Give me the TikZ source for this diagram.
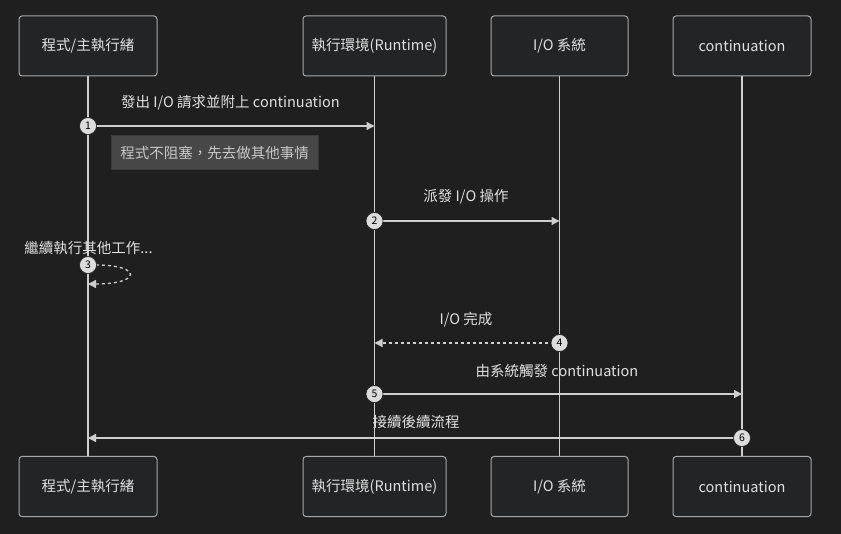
\documentclass[tikz,border=0pt]{standalone}
\usepackage{fontspec}
\setmainfont{Noto Sans CJK TC}
\usetikzlibrary{arrows.meta}
\definecolor{bg}{HTML}{1F1F1F}
\definecolor{boxfill}{HTML}{232425}
\definecolor{boxline}{HTML}{A8A8A8}
\definecolor{lineclr}{HTML}{CFCFCF}
\definecolor{txt}{HTML}{E0E0E0}
\definecolor{notefill}{HTML}{474747}
\definecolor{noteline}{HTML}{3A3A3A}
\definecolor{notetxt}{HTML}{C8C8C8}
\definecolor{circfill}{HTML}{DCDCDC}
\tikzset{
  actor/.style={draw=boxline, line width=1pt, fill=boxfill, rounded corners=3pt,
    minimum height=60pt, inner sep=0pt, text=txt, font=\fontsize{14.5}{16}\selectfont},
  life/.style={draw=lineclr, line width=1.3pt},
  msg/.style={draw=lineclr, line width=1.3pt, -{Triangle[length=8pt,width=8pt]}},
  dmsg/.style={msg, dash pattern=on 3pt off 3pt},
  seq/.style={circle, fill=circfill, draw=bg, line width=0.6pt, minimum size=17pt,
    inner sep=0pt, text=black, font=\fontsize{10.5}{10.5}\selectfont},
  lbl/.style={text=txt, font=\fontsize{14.5}{16}\selectfont, inner sep=0pt},
  note/.style={fill=notefill, draw=noteline, line width=1pt, text=notetxt,
    font=\fontsize{14.5}{16}\selectfont, minimum width=207pt, minimum height=34pt, inner sep=0pt}
}
\begin{document}
\begin{tikzpicture}[x=1pt,y=-1pt]
\fill[bg] (0,0) rectangle (841,534);
\useasboundingbox (0,0) rectangle (841,534);
% actors
\node[actor, minimum width=138pt] (p1t) at (88,46) {程式/主執行緒};
\node[actor, minimum width=143pt] (p2t) at (374.5,46) {執行環境(Runtime)};
\node[actor, minimum width=137pt] (p3t) at (559.5,46) {I/O 系統};
\node[actor, minimum width=138pt] (p4t) at (742,46) {continuation};
\node[actor, minimum width=138pt] (p1b) at (88,486.5) {程式/主執行緒};
\node[actor, minimum width=143pt] (p2b) at (374.5,486.5) {執行環境(Runtime)};
\node[actor, minimum width=137pt] (p3b) at (559.5,486.5) {I/O 系統};
\node[actor, minimum width=138pt] (p4b) at (742,486.5) {continuation};
% lifelines
\draw[life] (p1t.south) -- (p1b.north);
\draw[life] (p2t.south) -- (p2b.north);
\draw[life] (p3t.south) -- (p3b.north);
\draw[life] (p4t.south) -- (p4b.north);
% arrow end points
\coordinate (e1) at (374.5,126);
\coordinate (e2) at (559.5,221);
\coordinate (e3) at (88,284);
\coordinate (e4) at (374.5,343);
\coordinate (e5) at (742,394);
\coordinate (e6) at (88,438);
\coordinate (s1) at (88,126);
\coordinate (s2) at (374.5,221);
\coordinate (s3) at (96,265);
\coordinate (s4) at (559.5,343);
\coordinate (s5) at (374.5,394);
\coordinate (s6) at (742,438);
% messages
\draw[msg] (s1) -- (e1);
\draw[msg] (s2) -- (e2);
\draw[dmsg] (s3) .. controls (142,265) and (142,284) .. (e3);
\draw[dmsg] (s4) -- (e4);
\draw[msg] (s5) -- (e5);
\draw[msg] (s6) -- (e6);
% sequence numbers
\node[seq] (c1) at (s1) {1};
\node[seq] (c2) at (s2) {2};
\node[seq] (c3) at (88,265) {3};
\node[seq] (c4) at (s4) {4};
\node[seq] (c5) at (s5) {5};
\node[seq] (c6) at (s6) {6};
% labels
\node[lbl] (l1) at (230.5,103) {發出 I/O 請求並附上 continuation};
\node[lbl] (l2) at (466,197) {派發 I/O 操作};
\node[lbl] (l3) at (88.5,248) {繼續執行其他工作...};
\node[lbl] (l4) at (466,320) {I/O 完成};
\node[lbl] (l5) at (557,371) {由系統觸發 continuation};
\node[lbl] (l6) at (416,422) {接續後續流程};
% note
\node[note] (n1) at (214.5,153) {程式不阻塞，先去做其他事情};
\end{tikzpicture}
\end{document}
